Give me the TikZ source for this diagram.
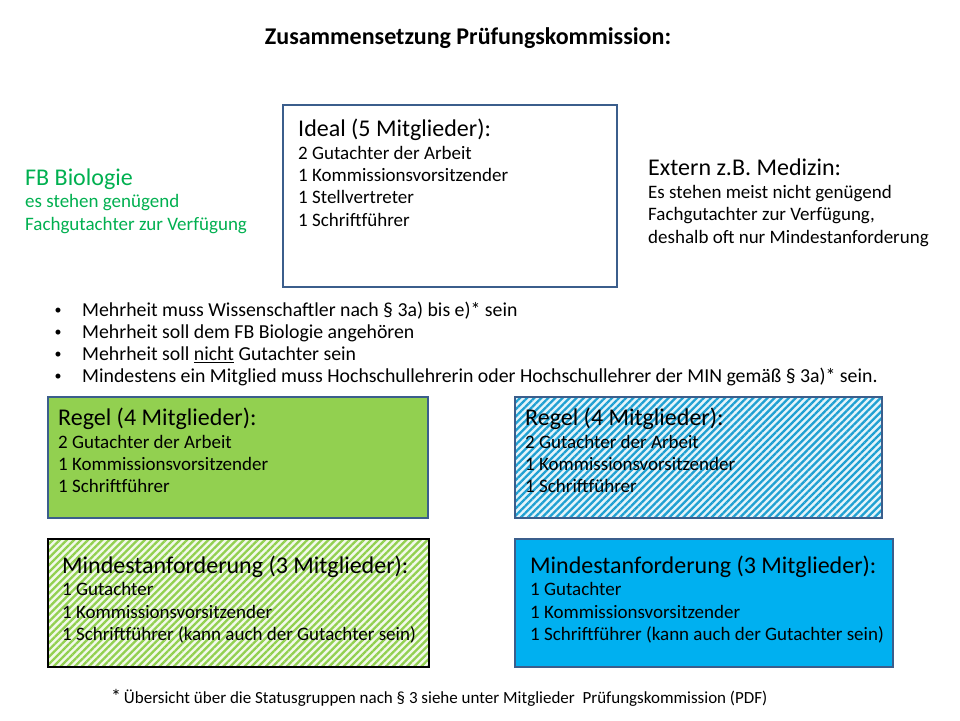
\documentclass[tikz,border=0pt]{standalone}
\usepackage{fontspec}
\setmainfont{Carlito}
\usetikzlibrary{patterns.meta,positioning}

\definecolor{frameblue}{HTML}{3B5E8C}
\definecolor{leafgreen}{HTML}{92D050}
\definecolor{skyblue}{HTML}{00B0F0}
\definecolor{stripeblue}{HTML}{1FA0D2}
\definecolor{biogreen}{HTML}{00B050}

\newcommand\headline[1]{{\fontsize{24}{26}\selectfont #1}}

\begin{document}
\begin{tikzpicture}[x=1pt,y=-1pt,
   panel/.style={draw=frameblue,line width=2.4pt,inner sep=0pt},
   hatch/.style={preaction={fill=#1!12},pattern={Lines[angle=45,distance=5pt,line width=2.3pt]},pattern color=#1},
   body/.style={anchor=north west,align=left,inner sep=0pt,font=\fontsize{19}{22.4}\selectfont},
   point/.style={anchor=west,inner sep=0pt,font=\fontsize{19.8}{22}\selectfont}]
  \useasboundingbox (0,0) rectangle (960,720);
  \fill[white] (0,0) rectangle (960,720);

  \node[font=\bfseries\fontsize{24}{28}\selectfont] (title) at (468,38) {Zusammensetzung Prüfungskommission:};

  % panels
  \node[panel,minimum width=334pt,minimum height=182pt] (ideal) at (450,196) {};
  \node[panel,fill=leafgreen,minimum width=380pt,minimum height=121pt] (rulebio) at (238,457.5) {};
  \node[panel,hatch=stripeblue,minimum width=367pt,minimum height=121pt] (ruleext) at (698.5,457.5) {};
  \node[panel,draw=black,hatch=leafgreen,minimum width=381pt,minimum height=128pt] (minbio) at (238.5,603) {};
  \node[panel,fill=skyblue,minimum width=378pt,minimum height=128pt] (minext) at (704,603) {};

  % texts
  \node[body] (idealtxt) at (298,119) {\headline{Ideal (5 Mitglieder):}\\2 Gutachter der Arbeit\\1 Kommissionsvorsitzender\\1 Stellvertreter\\1 Schriftführer};
  \node[body,text=biogreen] (bio) at (25,168.5) {\headline{FB Biologie}\\es stehen genügend\\Fachgutachter zur Verfügung};
  \node[body] (extern) at (648,159) {\headline{Extern z.B. Medizin:}\\Es stehen meist nicht genügend\\Fachgutachter zur Verfügung,\\deshalb oft nur Mindestanforderung};
  \node[body] (rulebiotxt) at (58,408) {\headline{Regel (4 Mitglieder):}\\2 Gutachter der Arbeit\\1 Kommissionsvorsitzender\\1 Schriftführer};
  \node[body] (ruleexttxt) at (525,408) {\headline{Regel (4 Mitglieder):}\\2 Gutachter der Arbeit\\1 Kommissionsvorsitzender\\1 Schriftführer};
  \node[body] (minbiotxt) at (62,555.5) {\headline{Mindestanforderung (3 Mitglieder):}\\1 Gutachter\\1 Kommissionsvorsitzender\\1 Schriftführer (kann auch der Gutachter sein)};
  \node[body] (minexttxt) at (530,555.5) {\headline{Mindestanforderung (3 Mitglieder):}\\1 Gutachter\\1 Kommissionsvorsitzender\\1 Schriftführer (kann auch der Gutachter sein)};

  % rules
  \foreach \txt [count=\i] in {{Mehrheit muss Wissenschaftler nach § 3a) bis e)* sein},
      {Mehrheit soll dem FB Biologie angehören},
      {Mehrheit soll \underline{nicht} Gutachter sein},
      {Mindestens ein Mitglied muss Hochschullehrerin oder Hochschullehrer der MIN gemäß § 3a)* sein.}} {
    \node[point,font=\fontsize{14}{14}\selectfont] (dot\i) at (54.5,{289+22*\i}) {\textbullet};
    \node[point] (rule\i) at (82,{289+22*\i}) {\txt};
  }

  \node[anchor=west,inner sep=0pt,font=\fontsize{17}{20}\selectfont] (note) at (111,698) {{\fontsize{20}{20}\selectfont *}\,Übersicht über die Statusgruppen nach § 3 siehe unter Mitglieder\ \ Prüfungskommission (PDF)};
\end{tikzpicture}
\end{document}
